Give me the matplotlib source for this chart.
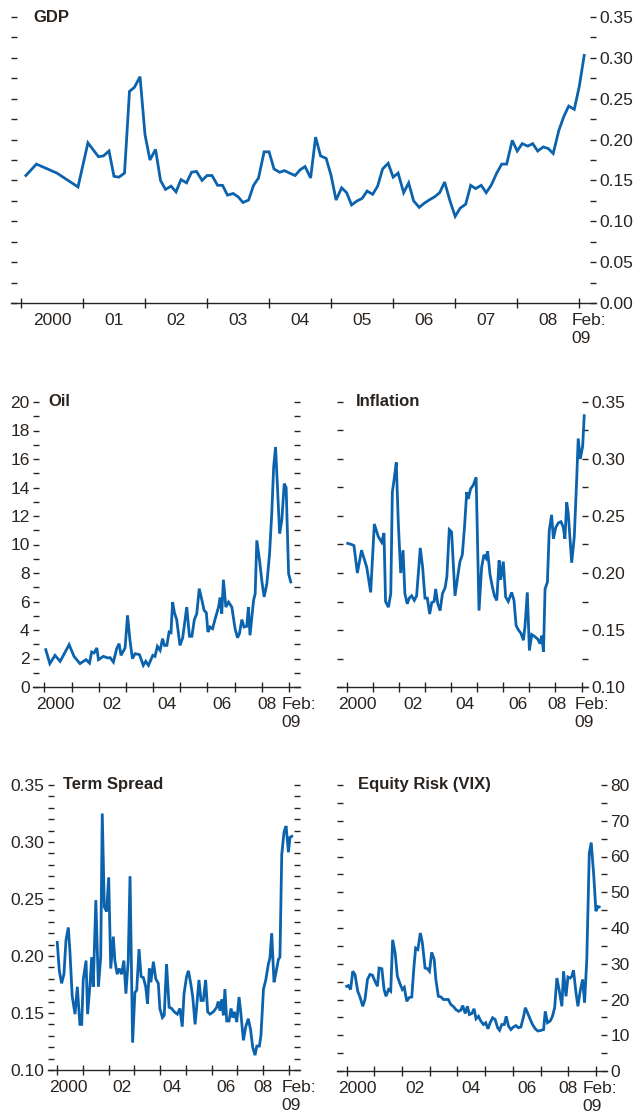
import matplotlib
matplotlib.use("Agg")
import matplotlib.pyplot as plt
from matplotlib import font_manager as fm
from matplotlib.ticker import MultipleLocator, FormatStrFormatter, NullFormatter

# the original uses a condensed grotesque; take the narrowest one we have
names = {f.name for f in fm.fontManager.ttflist}
if 'Liberation Sans Narrow' in names:
    FAM, FS, TFS = 'Liberation Sans Narrow', 13.5, 13
elif 'Liberation Sans' in names:
    FAM, FS, TFS = 'Liberation Sans', 12.5, 12
else:
    FAM, FS, TFS = 'DejaVu Sans', 11, 10.5
plt.rcParams['font.family'] = [FAM, 'DejaVu Sans']

TXT = '#2a2420'
BLUE = '#0b62ad'

# --- data (decimal year, value) ---
gdp_t = [2000.08, 2000.25, 2000.58, 2000.92, 2001.08, 2001.25,
         2001.33, 2001.42, 2001.50, 2001.58, 2001.67, 2001.75, 2001.83, 2001.92,
         2002.00, 2002.08, 2002.17, 2002.25, 2002.33, 2002.42, 2002.50, 2002.58,
         2002.67, 2002.75, 2002.83, 2002.92, 2003.00, 2003.08, 2003.17, 2003.25,
         2003.33, 2003.42, 2003.50, 2003.58, 2003.67, 2003.75, 2003.83, 2003.92,
         2004.00, 2004.08, 2004.17, 2004.25, 2004.33, 2004.42, 2004.50, 2004.58,
         2004.67, 2004.75, 2004.83, 2004.92, 2005.00, 2005.08, 2005.17, 2005.25,
         2005.33, 2005.42, 2005.50, 2005.58, 2005.67, 2005.75, 2005.83, 2005.92,
         2006.00, 2006.08, 2006.17, 2006.25, 2006.33, 2006.42, 2006.50, 2006.58,
         2006.67, 2006.75, 2006.83, 2006.92, 2007.00, 2007.08, 2007.17, 2007.25,
         2007.33, 2007.42, 2007.50, 2007.58, 2007.67, 2007.75, 2007.83, 2007.92,
         2008.00, 2008.08, 2008.17, 2008.25, 2008.33, 2008.42, 2008.50, 2008.58,
         2008.67, 2008.75, 2008.83, 2008.92, 2009.00, 2009.08]
gdp_v = [0.156, 0.170, 0.159, 0.142, 0.196, 0.179,
         0.180, 0.186, 0.155, 0.154, 0.159, 0.259, 0.264, 0.277,
         0.206, 0.175, 0.188, 0.150, 0.139, 0.143, 0.136, 0.151,
         0.147, 0.160, 0.161, 0.150, 0.156, 0.156, 0.144, 0.144,
         0.132, 0.134, 0.130, 0.123, 0.126, 0.144, 0.153, 0.185,
         0.185, 0.164, 0.160, 0.162, 0.159, 0.156, 0.163, 0.167,
         0.153, 0.203, 0.180, 0.177, 0.156, 0.126, 0.141, 0.135,
         0.120, 0.125, 0.128, 0.137, 0.133, 0.143, 0.164, 0.171,
         0.154, 0.159, 0.135, 0.147, 0.125, 0.117, 0.122, 0.126,
         0.130, 0.135, 0.148, 0.124, 0.106, 0.116, 0.121, 0.144,
         0.140, 0.144, 0.135, 0.144, 0.159, 0.170, 0.170, 0.199,
         0.186, 0.195, 0.192, 0.195, 0.186, 0.191, 0.189, 0.183,
         0.211, 0.228, 0.241, 0.237, 0.265, 0.303]

oil_t = [2000.05, 2000.20, 2000.39, 2000.58, 2000.91, 2001.09, 2001.31, 2001.53,
         2001.66, 2001.74, 2001.83, 2001.93, 2001.99, 2002.17, 2002.33, 2002.42,
         2002.54, 2002.66, 2002.75, 2002.82, 2002.97, 2003.06, 2003.15, 2003.24,
         2003.34, 2003.50, 2003.64, 2003.73, 2003.83, 2003.99, 2004.07, 2004.16,
         2004.26, 2004.35, 2004.42, 2004.51, 2004.59, 2004.66, 2004.72, 2004.79,
         2004.87, 2004.99, 2005.09, 2005.24, 2005.34, 2005.43, 2005.52, 2005.61,
         2005.70, 2005.80, 2005.88, 2005.96, 2006.02, 2006.10, 2006.19, 2006.29,
         2006.41, 2006.47, 2006.53, 2006.59, 2006.68, 2006.78, 2006.90, 2007.02,
         2007.11, 2007.18, 2007.27, 2007.35, 2007.45, 2007.51, 2007.57, 2007.70,
         2007.76, 2007.82, 2007.92, 2008.01, 2008.09, 2008.19, 2008.29, 2008.37,
         2008.44, 2008.51, 2008.58, 2008.66, 2008.74, 2008.83, 2008.90, 2008.99,
         2009.07]
oil_v = [2.62, 1.64, 2.22, 1.80, 2.97, 2.15, 1.64, 1.92,
         1.68, 2.46, 2.39, 2.74, 1.92, 2.15, 2.04, 2.06,
         1.75, 2.69, 3.04, 2.22, 2.74, 5.03, 3.27, 1.99,
         2.34, 2.27, 1.52, 1.80, 1.52, 2.22, 2.15, 2.85,
         2.57, 3.39, 2.92, 2.92, 3.86, 3.81, 5.96, 5.19,
         4.73, 2.92, 3.44, 5.61, 3.56, 3.56, 4.73, 5.15,
         6.90, 6.08, 5.38, 5.22, 3.86, 4.21, 4.09, 4.80,
         5.61, 6.27, 5.15, 7.53, 5.61, 5.96, 5.61, 4.09,
         3.46, 3.74, 4.73, 4.21, 4.26, 5.61, 3.63, 6.08,
         6.55, 10.29, 8.89, 7.37, 6.32, 7.25, 9.36, 12.16,
         15.44, 16.84, 14.04, 10.76, 11.70, 14.27, 13.99, 7.95,
         7.37]

infl_t = [2000.04, 2000.19, 2000.28, 2000.41, 2000.57, 2000.77, 2000.92, 2001.06,
          2001.21, 2001.34, 2001.43, 2001.49, 2001.60, 2001.69, 2001.75, 2001.83,
          2001.90, 2001.98, 2002.07, 2002.16, 2002.23, 2002.32, 2002.40, 2002.49,
          2002.59, 2002.68, 2002.82, 2002.91, 2003.00, 2003.09, 2003.18, 2003.26,
          2003.35, 2003.41, 2003.49, 2003.58, 2003.67, 2003.77, 2003.84, 2003.93,
          2004.02, 2004.15, 2004.28, 2004.34, 2004.43, 2004.51, 2004.60, 2004.66,
          2004.75, 2004.85, 2004.96, 2005.07, 2005.17, 2005.26, 2005.34, 2005.40,
          2005.49, 2005.58, 2005.66, 2005.75, 2005.84, 2005.90, 2006.00, 2006.09,
          2006.19, 2006.32, 2006.41, 2006.49, 2006.58, 2006.68, 2006.77, 2006.83,
          2006.92, 2007.00, 2007.09, 2007.22, 2007.32, 2007.41, 2007.47, 2007.54,
          2007.60, 2007.69, 2007.76, 2007.85, 2007.92, 2008.01, 2008.11, 2008.21,
          2008.30, 2008.36, 2008.43, 2008.49, 2008.62, 2008.72, 2008.81, 2008.87,
          2008.95, 2009.04, 2009.10]
infl_v = [0.226, 0.225, 0.224, 0.200, 0.220, 0.205, 0.183, 0.243,
          0.232, 0.227, 0.235, 0.175, 0.170, 0.182, 0.271, 0.284,
          0.297, 0.243, 0.200, 0.220, 0.182, 0.173, 0.178, 0.180,
          0.176, 0.180, 0.222, 0.205, 0.178, 0.178, 0.164, 0.174,
          0.175, 0.186, 0.173, 0.167, 0.182, 0.187, 0.197, 0.238,
          0.236, 0.180, 0.201, 0.210, 0.216, 0.239, 0.271, 0.265,
          0.274, 0.277, 0.284, 0.167, 0.205, 0.216, 0.213, 0.219,
          0.199, 0.188, 0.180, 0.176, 0.211, 0.194, 0.210, 0.179,
          0.175, 0.183, 0.176, 0.154, 0.150, 0.147, 0.141, 0.153,
          0.183, 0.132, 0.146, 0.144, 0.142, 0.138, 0.145, 0.131,
          0.186, 0.192, 0.237, 0.251, 0.230, 0.240, 0.244, 0.245,
          0.240, 0.230, 0.262, 0.252, 0.209, 0.232, 0.281, 0.318,
          0.300, 0.311, 0.338]

term_t = [2000.00, 2000.08, 2000.17, 2000.26, 2000.34, 2000.43, 2000.49, 2000.58,
          2000.69, 2000.78, 2000.88, 2000.95, 2001.01, 2001.12, 2001.18, 2001.27,
          2001.34, 2001.40, 2001.50, 2001.60, 2001.69, 2001.75, 2001.83, 2001.92,
          2002.00, 2002.08, 2002.18, 2002.24, 2002.33, 2002.41, 2002.50, 2002.59,
          2002.67, 2002.76, 2002.83, 2002.93, 2003.02, 2003.09, 2003.18, 2003.26,
          2003.35, 2003.44, 2003.51, 2003.58, 2003.64, 2003.74, 2003.83, 2003.93,
          2003.99, 2004.09, 2004.16, 2004.25, 2004.35, 2004.45, 2004.55, 2004.67,
          2004.77, 2004.86, 2004.93, 2005.03, 2005.10, 2005.19, 2005.27, 2005.36,
          2005.42, 2005.51, 2005.59, 2005.68, 2005.77, 2005.85, 2005.94, 2006.07,
          2006.20, 2006.26, 2006.33, 2006.39, 2006.46, 2006.52, 2006.59, 2006.68,
          2006.76, 2006.82, 2006.89, 2006.98, 2007.07, 2007.13, 2007.24, 2007.33,
          2007.43, 2007.52, 2007.60, 2007.69, 2007.76, 2007.86, 2007.92, 2008.02,
          2008.11, 2008.21, 2008.27, 2008.34, 2008.43, 2008.51, 2008.60, 2008.66,
          2008.73, 2008.82, 2008.90, 2008.99, 2009.05, 2009.12]
term_v = [0.212, 0.187, 0.176, 0.184, 0.214, 0.225, 0.205, 0.165,
          0.149, 0.173, 0.140, 0.140, 0.179, 0.196, 0.149, 0.174,
          0.199, 0.173, 0.249, 0.173, 0.199, 0.325, 0.243, 0.239,
          0.269, 0.189, 0.217, 0.196, 0.184, 0.189, 0.184, 0.196,
          0.167, 0.196, 0.270, 0.124, 0.168, 0.170, 0.206, 0.182,
          0.181, 0.173, 0.158, 0.189, 0.177, 0.195, 0.180, 0.176,
          0.154, 0.146, 0.148, 0.193, 0.155, 0.154, 0.151, 0.149,
          0.154, 0.138, 0.167, 0.182, 0.187, 0.176, 0.164, 0.140,
          0.155, 0.179, 0.161, 0.161, 0.179, 0.151, 0.149, 0.151,
          0.155, 0.160, 0.152, 0.162, 0.148, 0.171, 0.143, 0.143,
          0.154, 0.146, 0.151, 0.142, 0.164, 0.152, 0.126, 0.138,
          0.145, 0.135, 0.120, 0.113, 0.121, 0.121, 0.130, 0.171,
          0.179, 0.193, 0.198, 0.220, 0.177, 0.186, 0.197, 0.199,
          0.289, 0.309, 0.314, 0.291, 0.304, 0.305]

vix_t = [2000.00, 2000.06, 2000.14, 2000.22, 2000.30, 2000.40, 2000.48, 2000.58,
         2000.66, 2000.75, 2000.84, 2000.93, 2001.02, 2001.11, 2001.17, 2001.27,
         2001.35, 2001.42, 2001.51, 2001.59, 2001.66, 2001.75, 2001.83, 2001.92,
         2002.01, 2002.08, 2002.17, 2002.25, 2002.35, 2002.43, 2002.49, 2002.57,
         2002.66, 2002.73, 2002.83, 2002.92, 2002.99, 2003.07, 2003.16, 2003.22,
         2003.31, 2003.41, 2003.49, 2003.59, 2003.67, 2003.76, 2003.86, 2003.94,
         2004.04, 2004.12, 2004.19, 2004.28, 2004.36, 2004.43, 2004.52, 2004.60,
         2004.67, 2004.76, 2004.84, 2004.94, 2005.02, 2005.10, 2005.18, 2005.27,
         2005.36, 2005.45, 2005.52, 2005.60, 2005.69, 2005.76, 2005.84, 2005.93,
         2006.02, 2006.11, 2006.20, 2006.29, 2006.39, 2006.45, 2006.53, 2006.63,
         2006.71, 2006.81, 2006.90, 2006.99, 2007.11, 2007.17, 2007.25, 2007.35,
         2007.43, 2007.51, 2007.59, 2007.67, 2007.77, 2007.83, 2007.92, 2007.99,
         2008.07, 2008.13, 2008.19, 2008.28, 2008.35, 2008.43, 2008.52, 2008.59,
         2008.67, 2008.76, 2008.83, 2008.92, 2009.00, 2009.07, 2009.12]
vix_v = [23.7, 23.9, 22.8, 27.9, 27.0, 22.3, 20.7, 18.1,
         20.0, 25.6, 27.0, 26.8, 25.1, 23.7, 28.8, 28.6,
         22.8, 20.9, 22.8, 22.3, 36.7, 33.0, 26.5, 24.5,
         22.8, 23.4, 19.5, 20.5, 20.7, 29.3, 34.4, 34.0,
         38.6, 36.0, 28.8, 28.6, 27.9, 33.2, 31.2, 25.6,
         20.9, 20.7, 20.0, 20.0, 20.0, 18.6, 18.0, 17.2,
         16.7, 17.0, 18.3, 16.1, 18.1, 15.8, 16.1, 17.4,
         14.6, 15.3, 14.0, 13.0, 13.5, 11.8, 13.5, 14.9,
         14.4, 12.1, 11.4, 13.0, 13.0, 15.3, 12.6, 11.6,
         12.3, 12.7, 12.1, 12.3, 15.3, 17.7, 16.3, 14.4,
         13.0, 11.8, 11.2, 11.3, 11.6, 16.7, 13.5, 14.0,
         15.3, 17.7, 26.0, 22.8, 18.1, 27.9, 20.9, 26.3,
         26.0, 26.5, 28.2, 21.9, 18.1, 22.3, 25.6, 19.1,
         31.2, 60.9, 63.9, 54.9, 44.7, 46.0, 45.9]

year_ticks = list(range(2000, 2010))


def style_panel(ax, title, title_x, xlim, ylim, major, minor, fmt, side,
                lab_pos, lab_txt, feb_x):
    ax.set_xlim(*xlim)
    ax.set_ylim(*ylim)
    for s in ['top', 'left', 'right']:
        ax.spines[s].set_visible(False)
    ax.spines['bottom'].set_color(TXT)
    ax.spines['bottom'].set_linewidth(1.0)

    ax.set_xticks(year_ticks)
    ax.set_xticklabels([])
    ax.tick_params(axis='x', direction='inout', length=6.5, width=1.0, color=TXT)

    ax.yaxis.set_major_locator(MultipleLocator(major))
    ax.yaxis.set_minor_locator(MultipleLocator(minor))
    ax.yaxis.set_major_formatter(FormatStrFormatter(fmt))
    ax.yaxis.set_minor_formatter(NullFormatter())
    ax.tick_params(axis='y', which='both', left=True, right=True, direction='in',
                   length=4.5, width=1.0, color=TXT, labelcolor=TXT, labelsize=FS,
                   labelleft=(side == 'left'), labelright=(side == 'right'), pad=2.5)

    ax.text(title_x, 1.0, title, transform=ax.transAxes, ha='left', va='center',
            fontsize=TFS, fontweight='bold', color=TXT)

    tr = ax.get_xaxis_transform()
    for x, t in zip(lab_pos, lab_txt):
        ax.annotate(t, xy=(x, 0), xycoords=tr, xytext=(0, -7.5), textcoords='offset points',
                    ha='center', va='top', fontsize=FS, color=TXT)
    ax.annotate('Feb:\n09', xy=(feb_x, 0), xycoords=tr, xytext=(0, -7.5),
                textcoords='offset points', ha='center', va='top', ma='left',
                fontsize=FS, color=TXT, linespacing=1.25)


fig = plt.figure(figsize=(6.35, 11.13), dpi=100)

ax_gdp = fig.add_axes([11 / 635, 1 - 303 / 1113, 585 / 635, 286 / 1113])
ax_oil = fig.add_axes([33 / 635, 1 - 687 / 1113, 267 / 635, 285 / 1113])
ax_inf = fig.add_axes([337 / 635, 1 - 687 / 1113, 251 / 635, 285 / 1113])
ax_term = fig.add_axes([48 / 635, 1 - 1070 / 1113, 252 / 635, 285 / 1113])
ax_vix = fig.add_axes([337 / 635, 1 - 1071 / 1113, 270 / 635, 286 / 1113])

for ax, t, v in [(ax_gdp, gdp_t, gdp_v), (ax_oil, oil_t, oil_v), (ax_inf, infl_t, infl_v),
                 (ax_term, term_t, term_v), (ax_vix, vix_t, vix_v)]:
    ax.plot(t, v, color=BLUE, lw=2.0, solid_joinstyle='miter', clip_on=False)

gdp_labels = ['2000', '01', '02', '03', '04', '05', '06', '07', '08']
style_panel(ax_gdp, 'GDP', 0.038, (1999.84, 2009.27), (0, 0.35), 0.05, 0.025, '%.2f', 'right',
            [y + 0.5 for y in range(2000, 2009)], gdp_labels, 2009.15)

small_labels = ['2000', '02', '04', '06', '08']
style_panel(ax_oil, 'Oil', 0.056, (1999.58, 2009.41), (0, 20), 2, 1, '%d', 'left',
            [2000.4, 2002.5, 2004.5, 2006.55, 2008.2], small_labels, 2009.36)
style_panel(ax_inf, 'Inflation', 0.074, (1999.63, 2009.245), (0.10, 0.35), 0.05, 0.025, '%.2f', 'right',
            [2000.4, 2002.55, 2004.55, 2006.55, 2008.05], small_labels, 2009.40)
style_panel(ax_term, 'Term Spread', 0.061, (1999.64, 2009.44), (0.10, 0.35), 0.05, 0.01, '%.2f', 'left',
            [2000.45, 2002.5, 2004.45, 2006.55, 2008.0], small_labels, 2009.40)
style_panel(ax_vix, 'Equity Risk (VIX)', 0.077, (1999.65, 2009.4), (0, 80), 10, 5, '%d', 'right',
            [2000.38, 2002.45, 2004.5, 2006.5, 2008.0], small_labels, 2009.15)

fig.savefig('out.png', dpi=100)
